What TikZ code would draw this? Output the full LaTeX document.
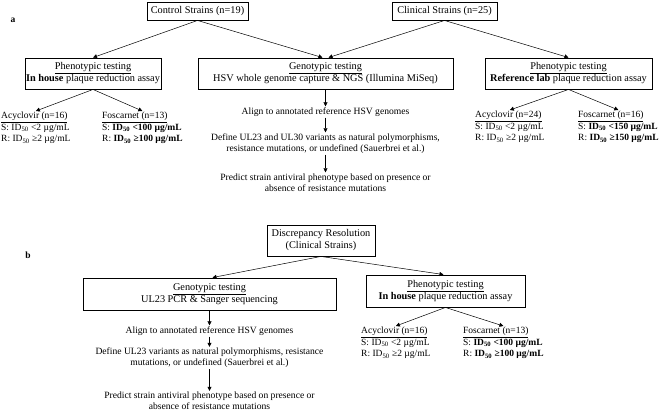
\documentclass[tikz,border=0pt]{standalone}
\usepackage{fontspec}
\setmainfont{Liberation Serif}
\usetikzlibrary{arrows.meta}

\newcommand{\idfifty}{ID\textsubscript{50}}

\tikzstyle{flowbox}=[draw,
                     line width=0.9pt,
                     inner sep=1pt,
                     align=center,
                     font=\fontsize{10.3}{12}\selectfont]
\tikzstyle{steptext}=[inner sep=1pt,
                      align=center,
                      font=\fontsize{9.6}{11.2}\selectfont]
\tikzstyle{drugtext}=[inner sep=1pt,
                      align=left,
                      anchor=north west,
                      font=\fontsize{9.5}{11.5}\selectfont]
\tikzstyle{flowarrow}=[-{Triangle[length=4pt,width=4pt]},
                       line width=0.5pt]

\begin{document}
\begin{tikzpicture}[x=1pt,y=-1pt]
    \useasboundingbox (0,0) rectangle (659,417);
    % panel a
    \node [font=\bfseries\fontsize{9.5}{11}\selectfont] (labA) at (13,20) {a};
    \node [flowbox, minimum width=101pt, minimum height=18pt] (ctrl) at (197.5,11) {Control Strains (n=19)};
    \node [flowbox, minimum width=105pt, minimum height=18pt] (clin) at (444.5,11) {Clinical Strains (n=25)};
    \node [flowbox, minimum width=136pt, minimum height=31pt] (pheA) at (93,73.5)
        {\underline{Phenotypic testing}\\\textbf{In house} plaque reduction assay};
    \node [flowbox, minimum width=255pt, minimum height=31pt] (genoA) at (325.5,73.5)
        {\underline{Genotypic testing}\\HSV whole genome capture \& NGS (Illumina MiSeq)};
    \node [flowbox, minimum width=167pt, minimum height=31pt] (pheB) at (568.5,73.5)
        {\underline{Phenotypic testing}\\\textbf{Reference lab} plaque reduction assay};

    \node [drugtext] (acyA) at (0,111)
        {\underline{Acyclovir (n=16)}\\S: \idfifty{} <2 µg/mL\\R: \idfifty{} ≥2 µg/mL};
    \node [drugtext] (fosA) at (101,111)
        {\underline{Foscarnet (n=13)}\\S: \textbf{\idfifty{} <100 µg/mL}\\R: \textbf{\idfifty{} ≥100 µg/mL}};
    \node [drugtext] (acyB) at (474,110)
        {\underline{Acyclovir (n=24)}\\S: \idfifty{} <2 µg/mL\\R: \idfifty{} ≥2 µg/mL};
    \node [drugtext] (fosB) at (577,110)
        {\underline{Foscarnet (n=16)}\\S: \textbf{\idfifty{} <150 µg/mL}\\R: \textbf{\idfifty{} ≥150 µg/mL}};

    \node [steptext] (alignA) at (325.5,112) {Align to annotated reference HSV genomes};
    \node [steptext] (defA) at (325.5,143.5)
        {Define UL23 and UL30 variants as natural polymorphisms,\\resistance mutations, or undefined (Sauerbrei et al.)};
    \node [steptext] (predA) at (325.5,182.5)
        {Predict strain antiviral phenotype based on presence or\\absence of resistance mutations};

    \draw [flowarrow] (ctrl.south) -- (pheA.north);
    \draw [flowarrow] (ctrl.south) -- ([xshift=-3pt]genoA.north);
    \draw [flowarrow] (clin.south) -- ([xshift=3pt]genoA.north);
    \draw [flowarrow] (clin.south) -- (pheB.north);
    \draw [flowarrow] (pheA.south) -- (acyA.north);
    \draw [flowarrow] (pheA.south) -- (fosA.north);
    \draw [flowarrow] (pheB.south) -- (acyB.north);
    \draw [flowarrow] (pheB.south) -- (fosB.north);
    \draw [flowarrow] (genoA) -- (alignA);
    \draw [flowarrow] (alignA) -- (defA);
    \draw [flowarrow] (defA) -- (predA);

    % panel b
    \node [font=\bfseries\fontsize{9.5}{11}\selectfont] (labB) at (28,255) {b};
    \node [flowbox, minimum width=108pt, minimum height=31pt] (disc) at (321,240.5)
        {Discrepancy Resolution\\(Clinical Strains)};
    \node [flowbox, minimum width=253pt, minimum height=32pt] (genoB) at (209.5,294)
        {\underline{Genotypic testing}\\UL23 PCR \& Sanger sequencing};
    \node [flowbox, minimum width=159pt, minimum height=32pt] (pheC) at (445.5,291)
        {\underline{Phenotypic testing}\\\textbf{In house} plaque reduction assay};

    \node [drugtext] (acyC) at (360,326)
        {\underline{Acyclovir (n=16)}\\S: \idfifty{} <2 µg/mL\\R: \idfifty{} ≥2 µg/mL};
    \node [drugtext] (fosC) at (462,326)
        {\underline{Foscarnet (n=13)}\\S: \textbf{\idfifty{} <100 µg/mL}\\R: \textbf{\idfifty{} ≥100 µg/mL}};

    \node [steptext] (alignB) at (209.5,331) {Align to annotated reference HSV genomes};
    \node [steptext] (defB) at (209.5,358)
        {Define UL23 variants as natural polymorphisms, resistance\\mutations, or undefined (Sauerbrei et al.)};
    \node [steptext] (predB) at (209.5,401)
        {Predict strain antiviral phenotype based on presence or\\absence of resistance mutations};

    \draw [flowarrow] (disc.south) -- ([xshift=3pt]genoB.north);
    \draw [flowarrow] (disc.south) -- ([xshift=-2pt]pheC.north);
    \draw [flowarrow] (pheC.south) -- (acyC.north);
    \draw [flowarrow] (pheC.south) -- (fosC.north);
    \draw [flowarrow] (genoB) -- (alignB);
    \draw [flowarrow] (alignB) -- (defB);
    \draw [flowarrow] (defB) -- (predB);
\end{tikzpicture}
\end{document}
